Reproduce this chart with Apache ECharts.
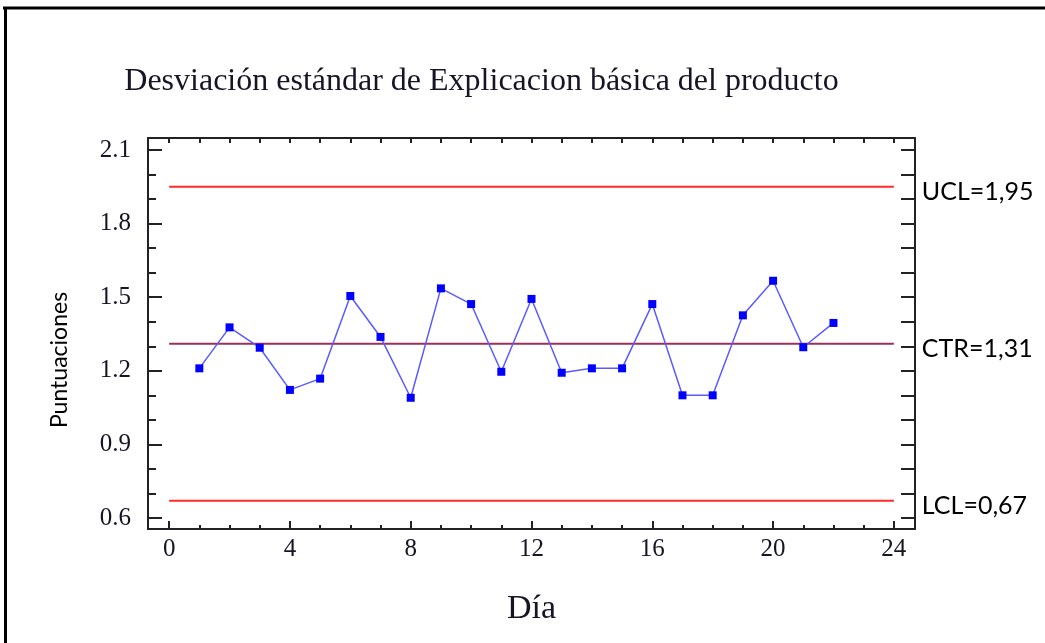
<!DOCTYPE html>
<html>
<head>
<meta charset="utf-8">
<script src="https://cdn.jsdelivr.net/npm/echarts@6/dist/echarts.min.js"></script>
<style>
html,body{margin:0;padding:0;background:#fff;}
#chart{width:1045px;height:643px;}
</style>
</head>
<body>
<div id="chart"></div>
<script>
// ---- data ----
var days = [1,2,3,4,5,6,7,8,9,10,11,12,13,14,15,16,17,18,19,20,21,22];
var stdDev = [1.21,1.377,1.294,1.122,1.168,1.505,1.338,1.09,1.536,1.472,1.196,1.493,1.192,1.21,1.21,1.472,1.10,1.10,1.426,1.567,1.296,1.395];
var ucl = 1.95, ctr = 1.31, lcl = 0.67;
var limitStart = 0, limitEnd = 24;
var xMajorTicks = [0,4,8,12,16,20,24];
var xMinorTicks = [0,1,2,3,4,5,6,7,8,9,10,11,12,13,14,15,16,17,18,19,20,21,22,23,24];
var yMajorTicks = [0.6,0.9,1.2,1.5,1.8,2.1];
var yMinorTicks = [0.6,0.7,0.8,0.9,1.0,1.1,1.2,1.3,1.4,1.5,1.6,1.7,1.8,1.9,2.0,2.1];
var titleText = 'Desviación estándar de Explicacion básica del producto';
var xName = 'Día';
var yName = 'Puntuaciones';

var serif = '"Liberation Serif","Times New Roman",serif';
var sans = 'Lato,"Open Sans",sans-serif';
var xMin = -0.7, xMax = 24.7, yMin = 0.555, yMax = 2.149;

function fmt(v){ return v.toFixed(2).replace('.', ','); }

function xAx(pos, ticks, len, showLine, labels){
  return {
    type:'value', position:pos, min:xMin, max:xMax,
    splitLine:{show:false},
    axisLine:{show:showLine, onZero:false, lineStyle:{color:'#222', width:2}},
    axisTick:{show:true, inside:true, length:len, customValues:ticks, lineStyle:{color:'#222', width:2}},
    axisLabel:{show:!!labels, customValues:labels || [], margin:8, fontFamily:serif, fontSize:25, color:'#151525'}
  };
}
function yAx(pos, ticks, len, showLine, labels){
  return {
    type:'value', position:pos, min:yMin, max:yMax,
    splitLine:{show:false},
    axisLine:{show:showLine, onZero:false, lineStyle:{color:'#222', width:2}},
    axisTick:{show:true, inside:true, length:len, customValues:ticks, lineStyle:{color:'#222', width:2}},
    axisLabel:{show:!!labels, customValues:labels || [], margin:17, fontFamily:serif, fontSize:25, color:'#151525',
      formatter:function(v){ return (+v).toFixed(1); }}
  };
}

var xAxes = [
  xAx('bottom', xMajorTicks, 8, true, xMajorTicks),
  xAx('bottom', xMinorTicks, 4, false, null),
  xAx('top', xMinorTicks, 5, true, null)
];
xAxes[0].name = xName;
xAxes[0].nameLocation = 'middle';
xAxes[0].nameGap = 63;
xAxes[0].nameTextStyle = {fontFamily:serif, fontSize:34, color:'#151525'};

var yAxes = [
  yAx('left', yMajorTicks, 14, true, yMajorTicks),
  yAx('left', yMinorTicks, 8, false, null),
  yAx('right', yMinorTicks, 14, true, null)
];

function limitSeries(name, value, color){
  return {
    name:name, type:'line', xAxisIndex:0, yAxisIndex:0,
    data:[[limitStart, value],[limitEnd, value]],
    symbol:'none', silent:true, animation:false,
    lineStyle:{color:color, width:2},
    endLabel:{show:true, distance:28, offset:[0,5], fontFamily:sans, fontSize:25, color:'#000',
      formatter:function(){ return name + '=' + fmt(value); }}
  };
}

var chart = echarts.init(document.getElementById('chart'), null, {renderer:'canvas'});
chart.setOption({
  animation:false,
  backgroundColor:'#fff',
  grid:{left:148, right:130, top:138, bottom:114, show:false},
  graphic:[
    {type:'text', x:481.5, y:82, style:{text:titleText, x:0, y:0, align:'center', verticalAlign:'middle',
      font:'32px ' + serif, fill:'#151525'}},
    {type:'text', x:60, y:360, rotation:Math.PI/2, style:{text:yName, x:0, y:0, align:'center', verticalAlign:'middle',
      font:'23px ' + sans, fill:'#000'}},
    {type:'line', shape:{x1:3, y1:8, x2:1045, y2:8}, style:{stroke:'#000', lineWidth:3}},
    {type:'line', shape:{x1:5.5, y1:7, x2:5.5, y2:643}, style:{stroke:'#000', lineWidth:3}}
  ],
  xAxis:xAxes,
  yAxis:yAxes,
  series:[
    limitSeries('UCL', ucl, '#ff2a2a'),
    limitSeries('CTR', ctr, '#9b2f5c'),
    limitSeries('LCL', lcl, '#ff2a2a'),
    {
      name:'Desviación', type:'line', xAxisIndex:0, yAxisIndex:0,
      data:days.map(function(d,i){ return [d, stdDev[i]]; }),
      symbol:'rect', symbolSize:8,
      itemStyle:{color:'#0000ff'},
      lineStyle:{color:'#5a5aff', width:1.5}
    }
  ]
});
</script>
</body>
</html>
